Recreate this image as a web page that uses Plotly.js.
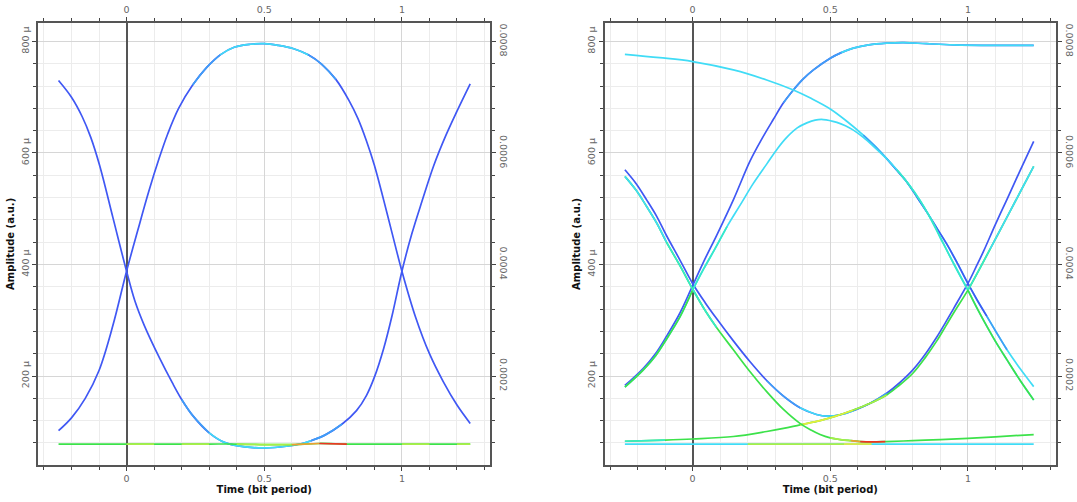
<!DOCTYPE html>
<html><head><meta charset="utf-8">
<script src="https://cdn.plot.ly/plotly-3.0.1.min.js"></script>
<style>html,body{margin:0;padding:0;background:#fff}#chart{width:1077px;height:502px}</style>
</head><body><div id="chart"></div>
<script>
// ---------- tick labels ----------
const timeTicks = [0, 0.5, 1];
const timeTickText = ['0', '0.5', '1'];
const ampTicks = [200, 400, 600, 800];            // in micro a.u.
const ampTickTextLeft = ['200 \u00b5', '400 \u00b5', '600 \u00b5', '800 \u00b5'];
const ampTickTextRight = ['0.0002', '0.0004', '0.0006', '0.0008'];

// ---------- left eye diagram (amplitude in micro a.u.) ----------
const tL010 = [-0.247,-0.2,-0.15,-0.1,-0.05,0,0.04,0.08,0.118,0.15,0.189,0.24,0.292,0.34,0.393,0.45,0.5,0.55,0.607,0.66,0.707,0.76,0.808,0.84,0.871,0.9,0.934,0.965,1,1.05,1.1,1.15,1.2,1.248];
const aL010 = [102,125,160,210,290,388,460,530,590,635,680,722,754,776,790,795,796,793,787,776,760,732,694,662,622,578,515,455,388,305,240,190,148,115];
const tL101 = [-0.247,-0.2,-0.161,-0.13,-0.098,-0.05,0,0.03,0.065,0.12,0.166,0.2,0.242,0.3,0.355,0.43,0.506,0.58,0.63,0.67,0.72,0.783,0.835,0.871,0.9,0.934,0.965,1,1.036,1.072,1.116,1.16,1.2,1.248];
const aL101 = [730,700,665,628,578,485,388,335,290,232,188,158,128,98,81,73,71,74,78,84,94,114,138,165,198,250,310,388,455,512,578,632,675,724];
const tL000 = [-0.247,-0.1,0,0.1,0.2,0.3,0.4,0.5,0.6,0.7,0.8,0.9,1.0,1.1,1.2,1.248];
const aL000 = [78,78,78,78,78,78,78,77,77,79,78,78,78,78,78,78];

// ---------- right eye diagram ----------
const tR011 = [-0.246,-0.179,-0.135,-0.095,-0.046,0,0.045,0.087,0.148,0.208,0.25,0.293,0.33,0.366,0.4,0.439,0.5,0.54,0.584,0.64,0.705,0.766,0.85,0.948,1.1,1.239];
const aR011 = [183,214,240,271,313,362,410,452,516,585,624,660,690,713,732,749,770,780,788,794,797,798,796,794,793,793];
const tR010 = [-0.246,-0.179,-0.135,-0.095,-0.046,0,0.04,0.081,0.125,0.172,0.22,0.269,0.31,0.342,0.38,0.415,0.445,0.475,0.524,0.555,0.584,0.62,0.657,0.7,0.742,0.785,0.826,0.865,0.9,0.95,1.0,1.035,1.069,1.105,1.142,1.19,1.239];
const aR010 = [180,211,236,266,306,354,392,428,468,506,545,580,609,628,645,654,659,660,655,649,641,628,612,592,570,544,515,482,448,400,354,320,289,258,229,192,157];
const tR110 = [-0.246,-0.12,0,0.148,0.269,0.366,0.43,0.5,0.56,0.62,0.665,0.705,0.74,0.778,0.815,0.851,0.89,0.924,0.962,1.0,1.035,1.069,1.105,1.142,1.19,1.239];
const aR110 = [777,771,764,749,731,713,698,679,657,632,611,590,570,548,521,494,463,436,402,366,335,307,277,247,213,181];
const tR101 = [-0.246,-0.205,-0.167,-0.13,-0.095,-0.046,0,0.045,0.087,0.148,0.208,0.269,0.33,0.39,0.45,0.49,0.54,0.584,0.645,0.705,0.75,0.8,0.845,0.887,0.92,0.948,1.0,1.03,1.057,1.1,1.142,1.19,1.239];
const aR101 = [570,545,516,486,452,408,366,332,303,263,226,192,164,143,131,128,131,138,151,169,187,211,239,270,297,321,366,396,424,472,517,569,621];
const tR100 = [-0.246,-0.205,-0.167,-0.13,-0.095,-0.046,0,0.045,0.087,0.148,0.208,0.269,0.33,0.39,0.43,0.463,0.5,0.536,0.575,0.609,0.65,0.7,0.8,0.9,1.0,1.1,1.239];
const aR100 = [558,533,504,474,440,398,356,318,287,247,208,172,140,115,103,95,89,86,84,82.5,82,82.5,84,86,88,91,95];
const tR001 = [-0.246,-0.1,0,0.148,0.269,0.33,0.39,0.463,0.52,0.584,0.645,0.705,0.75,0.8,0.845,0.887,0.92,0.948,1.0,1.04,1.081,1.142,1.19,1.239];
const aR001 = [83,85,87,91.5,100.5,106,112.5,120,128,139,151,166,183,205,233,263,290,313,354,390,428,485,530,576];
const tR000 = [-0.246,0,0.2,0.4,0.55,0.65,0.75,0.9,1.1,1.239];
const aR000 = [78,78,78,78,78,78,78,78,78,78];

// ---------- styles: colour of each segment (density colouring of the eye) ----------
const PAL = {B:'#4058f4', L:'#3f9ef7', C:'#40dcf6', T:'#36eac8', G:'#3ce24a', YG:'#a8ee48', Y:'#e6ee3a', O:'#f0a030', R:'#ee3522'};
function runs(spec) { // spec: [[colour, count], ...] -> per-segment colour list
  const out = [];
  spec.forEach(([c, k]) => { for (let i = 0; i < k; i++) out.push(c); });
  return out;
}
const cL010 = runs([['B',11],['L',2],['C',6],['L',2],['B',12]]);
const cL101 = runs([['B',11],['L',2],['C',6],['L',2],['B',12]]);
const cL000 = runs([['G',2],['YG',1],['G',1],['YG',1],['G',1],['YG',2],['O',1],['R',1],['G',2],['YG',1],['G',1],['YG',1]]);
const cR011 = runs([['B',12],['L',5],['C',8]]);
const cR010 = runs([['G',5],['T',3],['C',16],['T',6],['G',6]]);
const cR110 = runs([['C',9],['L',2],['B',10],['L',2],['C',2]]);
const cR101 = runs([['B',11],['L',2],['C',4],['L',2],['B',13]]);
const cR100 = runs([['C',4],['T',4],['G',8],['YG',2],['O',1],['R',2],['G',5]]);
const cR001 = runs([['T',1],['G',5],['Y',3],['YG',2],['G',7],['T',2],['C',3]]);
const cR000 = runs([['C',2],['YG',2],['Y',1],['C',4]]);

const traces = [];
function lineTrace(x, y, xa, ya, col) {
  return {x: x, y: y, xaxis: xa, yaxis: ya, type: 'scatter', mode: 'lines', hoverinfo: 'skip', showlegend: false,
          line: {color: PAL[col], width: 1.7, shape: 'spline', smoothing: 1}};
}
function addCurve(t, a, cols, xa, ya) {
  // smooth base curve in the dominant colour, then recoloured stretches on top
  const cnt = {};
  cols.forEach(c => cnt[c] = (cnt[c] || 0) + 1);
  const base = Object.keys(cnt).sort((p, q) => cnt[q] - cnt[p])[0];
  traces.push(lineTrace(t, a, xa, ya, base));
  let s = 0;
  for (let i = 1; i <= cols.length; i++) {
    if (i === cols.length || cols[i] !== cols[s]) {
      if (cols[s] !== base) traces.push(lineTrace(t.slice(s, i + 1), a.slice(s, i + 1), xa, ya, cols[s]));
      s = i;
    }
  }
}
addCurve(tL010, aL010, cL010, 'x', 'y');
addCurve(tL101, aL101, cL101, 'x', 'y');
addCurve(tL000, aL000, cL000, 'x', 'y');
addCurve(tR011, aR011, cR011, 'x3', 'y3');
addCurve(tR110, aR110, cR110, 'x3', 'y3');
addCurve(tR101, aR101, cR101, 'x3', 'y3');
addCurve(tR010, aR010, cR010, 'x3', 'y3');
addCurve(tR000, aR000, cR000, 'x3', 'y3');
addCurve(tR001, aR001, cR001, 'x3', 'y3');
addCurve(tR100, aR100, cR100, 'x3', 'y3');
// empty traces so that the mirrored top / right axes are drawn
traces.push({x: [], y: [], xaxis: 'x2', yaxis: 'y2', type: 'scatter', mode: 'lines', hoverinfo: 'skip', showlegend: false});
traces.push({x: [], y: [], xaxis: 'x4', yaxis: 'y4', type: 'scatter', mode: 'lines', hoverinfo: 'skip', showlegend: false});

const FONT = 'DejaVu Sans, Verdana, sans-serif';
const tickFont = {family: FONT, size: 9.5, color: '#666'};
const titleFont = {family: FONT, size: 10, color: '#111'};
const xRange = [-0.32, 1.32];
const yRange = [40.4, 833.7];
const yDom = [0.0737, 0.9548];
const dL = [0.0357, 0.455];
const dR = [0.5613, 0.9805];

function baseX(dom, anchor) {
  return {domain: dom, anchor: anchor, range: xRange, fixedrange: true, automargin: false,
    tickmode: 'array', tickvals: timeTicks, ticktext: timeTickText, ticks: 'outside', ticklen: 4, tickwidth: 1, tickcolor: '#444',
    tickfont: tickFont, showgrid: true, gridcolor: '#d6d6d6', gridwidth: 1,
    zeroline: true, zerolinecolor: '#555', zerolinewidth: 2,
    showline: true, linecolor: '#555', linewidth: 2,
    minor: {tickmode: 'linear', tick0: 0, dtick: 0.1, ticks: 'outside', ticklen: 3, tickcolor: '#444', showgrid: true, gridcolor: '#ececec', gridwidth: 1},
    title: {text: '<b>Time (bit period)</b>', font: titleFont, standoff: 1}};
}
function topX(dom, over, anchor) {
  return {domain: dom, overlaying: over, anchor: anchor, side: 'top', range: xRange, fixedrange: true, automargin: false,
    tickmode: 'array', tickvals: timeTicks, ticktext: timeTickText, ticks: 'outside', ticklen: 4, tickcolor: '#444',
    tickfont: tickFont, showgrid: false, zeroline: false, showline: true, linecolor: '#555', linewidth: 2,
    minor: {tickmode: 'linear', tick0: 0, dtick: 0.1, ticks: 'outside', ticklen: 3, tickcolor: '#444', showgrid: false}};
}
function baseY(anchor) {
  return {domain: yDom, anchor: anchor, range: yRange, fixedrange: true, automargin: false,
    tickmode: 'array', tickvals: ampTicks, ticktext: ampTickTextLeft, tickangle: -90, ticks: 'outside', ticklen: 4, tickcolor: '#444',
    tickfont: tickFont, showgrid: true, gridcolor: '#d6d6d6', gridwidth: 1, zeroline: false,
    showline: true, linecolor: '#555', linewidth: 2,
    minor: {tickmode: 'linear', tick0: 0, dtick: 40, ticks: 'outside', ticklen: 3, tickcolor: '#444', showgrid: true, gridcolor: '#ececec', gridwidth: 1},
    title: {text: '<b>Amplitude (a.u.)</b>', font: titleFont, standoff: 3}};
}
function rightY(over, anchor) {
  return {domain: yDom, overlaying: over, anchor: anchor, side: 'right', range: yRange, fixedrange: true, automargin: false,
    tickmode: 'array', tickvals: ampTicks, ticktext: ampTickTextRight, tickangle: 90, ticks: 'outside', ticklen: 4, tickcolor: '#444',
    tickfont: tickFont, showgrid: false, zeroline: false, showline: true, linecolor: '#555', linewidth: 2,
    minor: {tickmode: 'linear', tick0: 0, dtick: 40, ticks: 'outside', ticklen: 3, tickcolor: '#444', showgrid: false}};
}

const layout = {
  width: 1077, height: 502, margin: {l: 0, r: 0, t: 0, b: 0},
  paper_bgcolor: '#fff', plot_bgcolor: '#fff', showlegend: false,
  xaxis: baseX(dL, 'y'), yaxis: baseY('x'),
  xaxis2: topX(dL, 'x', 'y'), yaxis2: rightY('y', 'x'),
  xaxis3: baseX(dR, 'y3'), yaxis3: baseY('x3'),
  xaxis4: topX(dR, 'x3', 'y3'), yaxis4: rightY('y3', 'x3')
};
Plotly.newPlot('chart', traces, layout, {displayModeBar: false, staticPlot: true});
</script></body></html>
